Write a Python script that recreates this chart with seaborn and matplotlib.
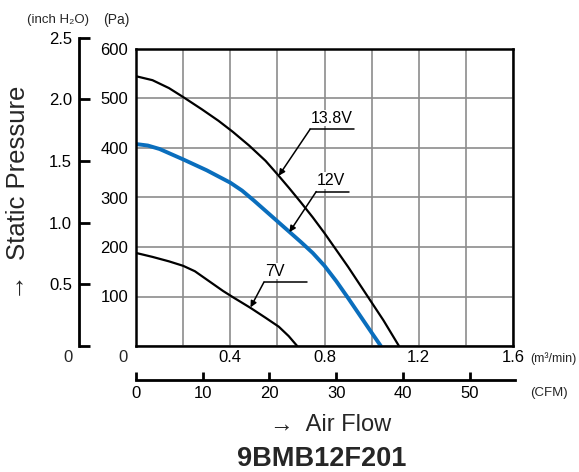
import numpy as np
import pandas as pd
import matplotlib
matplotlib.use("Agg")
import matplotlib.pyplot as plt
from matplotlib import font_manager
import seaborn as sns

# ---- data (m3/min, Pa) ----
flow_138 = [0.0, 0.07, 0.14, 0.2, 0.28, 0.35, 0.41, 0.48, 0.55, 0.6, 0.65,
            0.7, 0.75, 0.8, 0.85, 0.9, 0.95, 1.0, 1.05, 1.116]
pres_138 = [545, 537, 521, 503, 478, 455, 433, 405, 374, 347, 319,
            290, 260, 228, 194, 160, 124, 88, 52, 0]

flow_12 = [0.0, 0.05, 0.1, 0.2, 0.3, 0.4, 0.45, 0.5, 0.55, 0.6, 0.65, 0.7,
           0.75, 0.8, 0.85, 0.9, 0.95, 1.0, 1.039]
pres_12 = [408, 405, 398, 377, 355, 330, 314, 294, 273, 252, 231, 210,
           188, 162, 131, 97, 62, 27, 0]

flow_7 = [0.0, 0.07, 0.14, 0.2, 0.25, 0.31, 0.37, 0.41, 0.486, 0.55,
          0.606, 0.648, 0.684]
pres_7 = [188, 180, 171, 162, 151, 131, 111, 99, 77, 57, 39, 20, 0]

x_ticks = [0.0, 0.2, 0.4, 0.6, 0.8, 1.0, 1.2, 1.4, 1.6]
x_labels = ["", "", "0.4", "", "0.8", "", "1.2", "", "1.6"]
pa_ticks = [0, 100, 200, 300, 400, 500, 600]
pa_labels = ["", "100", "200", "300", "400", "500", "600"]
inch_ticks = [0, 0.5, 1.0, 1.5, 2.0, 2.5]
inch_labels = ["", "0.5", "1.0", "1.5", "2.0", "2.5"]
cfm_ticks = [0, 10, 20, 30, 40, 50]

# annotation: label, underline x0, x1, y, arrow tip x, y
ann_labels = ["13.8V", "12V", "7V"]
ann_x0 = [0.739, 0.765, 0.543]
ann_x1 = [0.925, 0.905, 0.726]
ann_y = [438, 312, 129]
tip_x = [0.606, 0.651, 0.486]
tip_y = [344, 230, 78]

PA_PER_INCH = 249.089
M3MIN_PER_CFM = 0.0283168

sns.set_theme(style="white")
plt.rcParams["font.family"] = ["Liberation Sans", "DejaVu Sans"]

names = {f.name for f in font_manager.fontManager.ttflist}
title_family = (["Liberation Sans Narrow", "Liberation Sans"]
                if "Liberation Sans Narrow" in names else ["Liberation Sans"])
title_size = 23 if "Liberation Sans Narrow" in names else 19.5

W, H = 579, 472
fig = plt.figure(figsize=(W / 100, H / 100), dpi=100)

def fx(px):
    return px / W

def fy(py):
    return 1 - py / H

# main axes
L, R, T, B = 136, 513, 49, 346
ax = fig.add_axes([fx(L), fy(B), (R - L) / W, (B - T) / H])
ax.set_xlim(0, 1.6)
ax.set_ylim(0, 600)
ax.set_xticks(x_ticks)
ax.set_xticklabels(x_labels)
ax.set_yticks(pa_ticks)
ax.set_yticklabels(pa_labels)
ax.tick_params(axis="both", length=0, labelsize=12, colors="black")
ax.tick_params(axis="x", pad=3)
ax.tick_params(axis="y", pad=5.5)
ax.grid(True, color="#8c8c8c", lw=1.2)
ax.set_axisbelow(True)
for s in ax.spines.values():
    s.set_color("black")
    s.set_linewidth(1.8)
    s.set_visible(True)

sns.lineplot(x=flow_138, y=pres_138, ax=ax, color="black", lw=1.6, sort=False)
sns.lineplot(x=flow_12, y=pres_12, ax=ax, color="#0a6ebd", lw=2.8, sort=False)
sns.lineplot(x=flow_7, y=pres_7, ax=ax, color="black", lw=1.6, sort=False)

for lab, x0, x1, y, tx, ty in zip(ann_labels, ann_x0, ann_x1, ann_y, tip_x, tip_y):
    ax.plot([x0, x1], [y, y], color="black", lw=1.1)
    ax.annotate("", xy=(tx, ty), xytext=(x0, y),
                arrowprops=dict(arrowstyle="-|>", color="black", lw=1.1,
                                mutation_scale=9, shrinkA=0, shrinkB=0))
    ax.text(x0 + 0.003, y + 7, lab, ha="left", va="bottom", fontsize=11.5,
            color="black",
            bbox=dict(facecolor="white", edgecolor="none", pad=0.5))

# inch H2O axis
top_inch = B - 2.5 * PA_PER_INCH * (B - T) / 600
ax2 = fig.add_axes([fx(79), fy(B), 0.0001, (B - top_inch) / H])
ax2.set_ylim(0, 2.5)
ax2.set_yticks(inch_ticks)
ax2.set_yticklabels(inch_labels)
ax2.set_xticks([])
ax2.patch.set_alpha(0)
for k in ["top", "right", "bottom"]:
    ax2.spines[k].set_visible(False)
ax2.spines["left"].set_color("black")
ax2.spines["left"].set_linewidth(2.0)
ax2.tick_params(axis="y", left=True, direction="in", length=8, width=2.0,
                pad=5, labelsize=12, colors="black")

# CFM axis
cfm_right = 515
ax3 = fig.add_axes([fx(L), fy(380), (cfm_right - L) / W, 0.0001])
ax3.set_xlim(0, (cfm_right - L) / (R - L) * 1.6 / M3MIN_PER_CFM)
ax3.set_xticks(cfm_ticks)
ax3.set_yticks([])
ax3.patch.set_alpha(0)
for k in ["top", "right", "left"]:
    ax3.spines[k].set_visible(False)
ax3.spines["bottom"].set_color("black")
ax3.spines["bottom"].set_linewidth(2.0)
ax3.tick_params(axis="x", bottom=True, direction="in", length=6, width=2.0,
                pad=4, labelsize=12, colors="black")

# free texts
fig.text(fx(68), fy(357), "0", ha="center", va="center", fontsize=12)
fig.text(fx(123), fy(357), "0", ha="center", va="center", fontsize=12)
fig.text(fx(530), fy(359), "(m³/min)", ha="left", va="center", fontsize=9)
fig.text(fx(530), fy(393), "(CFM)", ha="left", va="center", fontsize=9.5)
fig.text(fx(27), fy(20), "(inch H₂O)", ha="left", va="center", fontsize=9.5)
fig.text(fx(116), fy(20), "(Pa)", ha="center", va="center", fontsize=10)
fig.text(fx(18), fy(193), "→  Static Pressure", rotation=90, ha="center",
         va="center", fontsize=18.5)
fig.text(fx(331), fy(425), "→  Air Flow", ha="center", va="center", fontsize=17)
fig.text(fx(322), fy(459), "9BMB12F201", ha="center", va="center",
         fontsize=title_size, fontweight="bold", family=title_family)

fig.savefig("out.png", dpi=100)
